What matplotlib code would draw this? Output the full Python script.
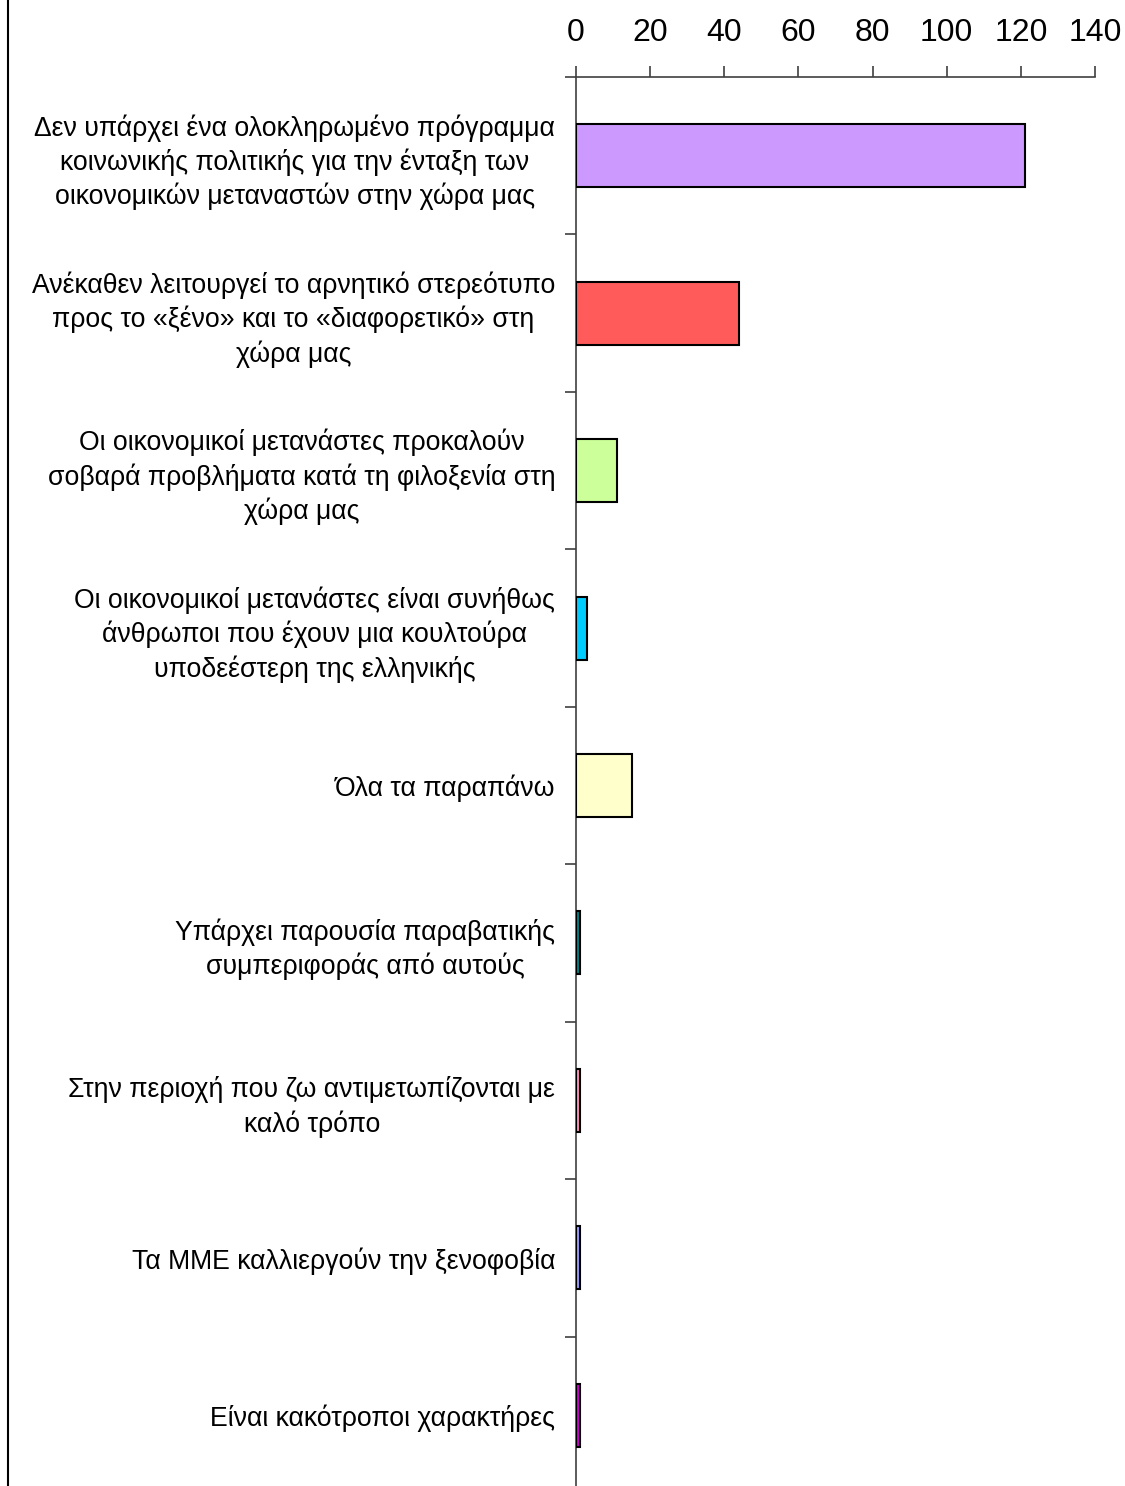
import matplotlib
matplotlib.use("Agg")
import matplotlib.pyplot as plt
from matplotlib.lines import Line2D
import numpy as np

plt.rcParams['font.family'] = ['Liberation Sans', 'DejaVu Sans']

categories = [
    "Δεν υπάρχει ένα ολοκληρωμένο πρόγραμμα\nκοινωνικής πολιτικής για την ένταξη των\nοικονομικών μεταναστών στην χώρα μας",
    "Ανέκαθεν λειτουργεί το αρνητικό στερεότυπο\nπρος το «ξένο» και το «διαφορετικό» στη\nχώρα μας",
    "Οι οικονομικοί μετανάστες προκαλούν\nσοβαρά προβλήματα κατά τη φιλοξενία στη\nχώρα μας",
    "Οι οικονομικοί μετανάστες είναι συνήθως\nάνθρωποι που έχουν μια κουλτούρα\nυποδεέστερη της ελληνικής",
    "Όλα τα παραπάνω",
    "Υπάρχει παρουσία παραβατικής\nσυμπεριφοράς από αυτούς",
    "Στην περιοχή που ζω αντιμετωπίζονται με\nκαλό τρόπο",
    "Τα ΜΜΕ καλλιεργούν την ξενοφοβία",
    "Είναι κακότροποι χαρακτήρες",
]
values = [121, 44, 11, 3, 15, 1, 1, 1, 1]
colors = ["#CC99FF", "#FF5B5B", "#CCFF99", "#00CCFF", "#FFFFCC",
          "#008080", "#FF8FB8", "#9999FF", "#CC00CC"]
xticks = [0, 20, 40, 60, 80, 100, 120, 140]

W, H = 1125, 1486
fig = plt.figure(figsize=(W / 100, H / 100), dpi=100)
x0, x1 = 576, 1095
y_top, y_bot = 77, 1494
ax = fig.add_axes([x0 / W, 1 - y_bot / H, (x1 - x0) / W, (y_bot - y_top) / H])

n = len(values)
pos = np.arange(n) + 0.5
ax.barh(pos, values, height=0.4, color=colors, edgecolor="black", linewidth=1.5, zorder=3)

ax.set_xlim(0, 140)
ax.set_ylim(n, 0)

ax.xaxis.set_ticks_position("top")
ax.set_xticks(xticks)
ax.set_xticklabels([str(v) for v in xticks], fontsize=23)
ax.tick_params(axis="x", direction="out", length=8, width=1.2, color="#404040", pad=13)

ax.set_yticks(np.arange(0, n + 1))
ax.set_yticklabels([])
ax.set_yticks(pos, minor=True)
ax.set_yticklabels(categories, minor=True, fontsize=19.2)
ax.tick_params(axis="y", which="major", direction="out", length=8, width=1.2, color="#404040")
ax.tick_params(axis="y", which="minor", length=0, pad=15)
for lbl in ax.get_yticklabels(minor=True):
    lbl.set_multialignment("center")
    lbl.set_linespacing(1.32)

for s in ["right", "bottom"]:
    ax.spines[s].set_visible(False)
for s in ["left", "top"]:
    ax.spines[s].set_color("#404040")
    ax.spines[s].set_linewidth(1.2)

# outer chart border on the left
fig.add_artist(Line2D([8 / W, 8 / W], [0, 1], color="black", linewidth=1.5,
                      transform=fig.transFigure))

fig.savefig("out.png", dpi=100, facecolor="white")
